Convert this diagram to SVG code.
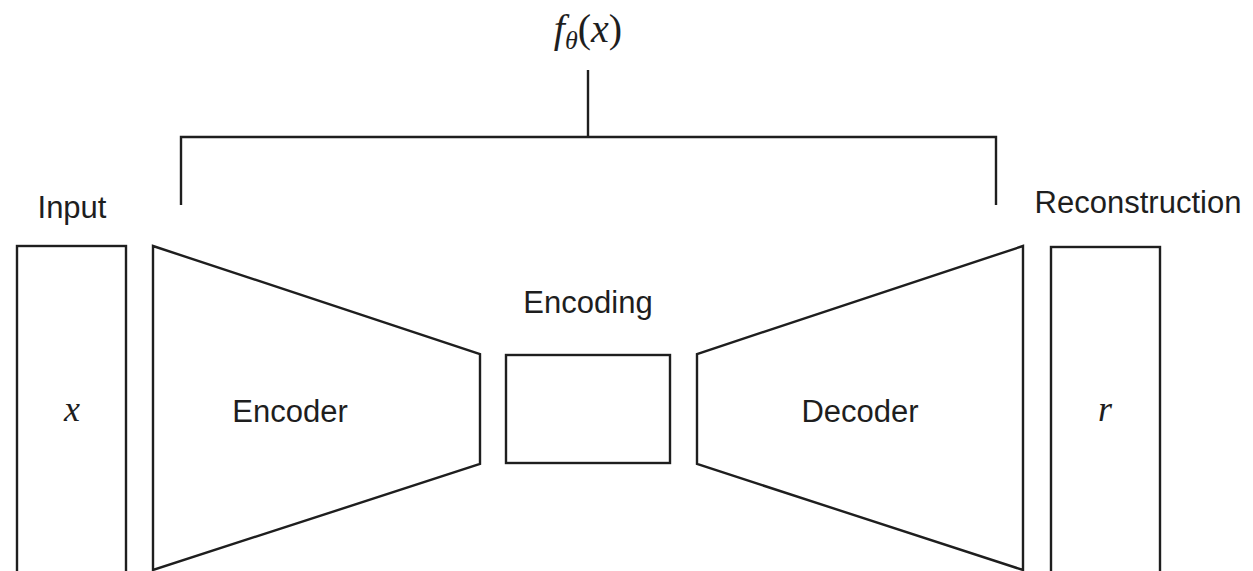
<svg xmlns="http://www.w3.org/2000/svg" width="1253" height="571" viewBox="0 0 1253 571">
  <style>
    .shape { fill: none; stroke: #1e1e1e; stroke-width: 2.4; stroke-linejoin: miter; }
    .label { font-family: "Liberation Sans", Arial, sans-serif; font-size: 31px; fill: #1e1e1e; }
    .math { font-family: "Liberation Serif", "Times New Roman", serif; font-style: italic; fill: #1e1e1e; }
    .upright { font-style: normal; }
  </style>
  <rect width="1253" height="571" fill="#ffffff"/>

  <!-- overall function label and bracket -->
  <g id="function">
    <text class="math" x="588" y="42" font-size="40" text-anchor="middle">f<tspan font-size="26" dy="7">θ</tspan><tspan class="upright" dy="-7">(</tspan>x<tspan class="upright">)</tspan></text>
  </g>
  <g id="connectors">
    <path class="shape" d="M588 70 V137"/>
    <path class="shape" d="M181 205 V137 H996 V205"/>
  </g>

  <!-- input -->
  <g id="input">
    <text class="label" x="72" y="218" text-anchor="middle">Input</text>
    <rect class="shape" x="17" y="246" width="109" height="335"/>
    <text class="math" x="72" y="421" font-size="36" text-anchor="middle">x</text>
  </g>

  <!-- encoder -->
  <g id="encoder">
    <path class="shape" d="M153 246 L480 354 V464 L153 570 Z"/>
    <text class="label" x="290" y="422" text-anchor="middle">Encoder</text>
  </g>

  <!-- latent code -->
  <g id="encoding">
    <text class="label" x="588" y="313" text-anchor="middle">Encoding</text>
    <rect class="shape" x="506" y="355" width="164" height="108"/>
  </g>

  <!-- decoder -->
  <g id="decoder">
    <path class="shape" d="M1023 246 L697 354 V464 L1023 570 Z"/>
    <text class="label" x="860" y="422" text-anchor="middle">Decoder</text>
  </g>

  <!-- reconstruction -->
  <g id="reconstruction">
    <text class="label" x="1138" y="213" text-anchor="middle" font-size="31.5">Reconstruction</text>
    <rect class="shape" x="1051" y="247" width="109" height="335"/>
    <text class="math" x="1105" y="421" font-size="36" text-anchor="middle">r</text>
  </g>
</svg>
